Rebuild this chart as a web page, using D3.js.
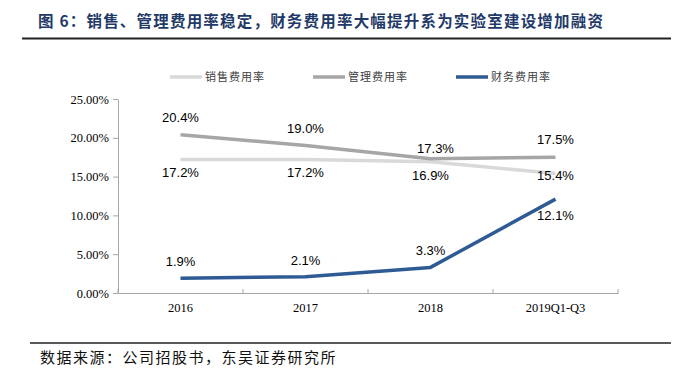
<!DOCTYPE html>
<html><head><meta charset="utf-8">
<script src="https://cdn.jsdelivr.net/npm/d3@7"></script>
<style>body{margin:0;background:#fff;}svg{display:block;}</style>
</head><body>
<svg id="c" width="691" height="378"></svg>
<script>
const categories = ["2016", "2017", "2018", "2019Q1-Q3"];
const salesRate = [17.2, 17.2, 16.9, 15.4];
const adminRate = [20.4, 19.0, 17.3, 17.5];
const financeRate = [1.9, 2.1, 3.3, 12.1];
const seriesNames = ["销售费用率", "管理费用率", "财务费用率"];
const yTicks = [0, 5, 10, 15, 20, 25];
const titleText = "图 6：销售、管理费用率稳定，财务费用率大幅提升系为实验室建设增加融资";
const sourceText = "数据来源：公司招股书，东吴证券研究所";

const svg = d3.select("#c");
const colors = ["#d9d9d9", "#a6a6a6", "#2f5b95"];
const series = [salesRate, adminRate, financeRate];
// label offsets (placement only)
const labelDy = [[17, 17, 18, 7], [-13, -13, -6, -13], [-12, -12, -12, 21]];

// title
svg.append("text").attr("x", 38).attr("y", 27)
  .attr("font-family", "Noto Sans CJK SC").attr("font-weight", 700)
  .attr("font-size", 15.5).attr("letter-spacing", 1.2).attr("fill", "#1f3a68")
  .text(titleText);
svg.append("line").attr("x1", 22).attr("x2", 671).attr("y1", 38.5).attr("y2", 38.5)
  .attr("stroke", "#222").attr("stroke-width", 2);

const x = d3.scaleBand().domain(categories).range([118, 618]);
const y = d3.scaleLinear().domain([0, 25]).range([293, 99]);

// y axis
const ya = svg.append("g").attr("transform", "translate(118,0)")
  .call(d3.axisLeft(y).tickValues(yTicks).tickSize(5).tickSizeOuter(0).tickFormat(d => d.toFixed(2) + "%"));
ya.select(".domain").attr("stroke", "#a6a6a6");
ya.selectAll(".tick line").attr("stroke", "#a6a6a6");
ya.selectAll(".tick text").attr("font-family", "Liberation Serif").attr("font-size", 12.5)
  .attr("fill", "#000").attr("x", -9);

// x axis
const xa = svg.append("g").attr("transform", "translate(0,293)")
  .call(d3.axisBottom(x).tickSize(0).tickSizeOuter(0));
xa.select(".domain").attr("stroke", "#a6a6a6");
xa.selectAll(".tick text").attr("font-family", "Liberation Serif").attr("font-size", 12.5)
  .attr("fill", "#000").attr("dy", "0.71em").attr("y", 10);
const bounds = categories.map(c => x(c) + x.bandwidth()).concat([118]);
svg.append("g").selectAll("line").data(bounds).join("line")
  .attr("x1", d => d).attr("x2", d => d).attr("y1", 293).attr("y2", 289)
  .attr("stroke", "#a6a6a6");

// lines
const line = d3.line().x((d, i) => x(categories[i]) + x.bandwidth() / 2).y(d => y(d));
series.forEach((s, k) => {
  svg.append("path").datum(s).attr("d", line).attr("fill", "none")
    .attr("stroke", colors[k]).attr("stroke-width", 3.5).attr("stroke-linejoin", "round");
});
// labels
series.forEach((s, k) => {
  svg.append("g").selectAll("text").data(s).join("text")
    .attr("x", (d, i) => x(categories[i]) + x.bandwidth() / 2 + (k === 1 && i === 2 ? 5 : 0))
    .attr("y", (d, i) => y(d) + labelDy[k][i])
    .attr("text-anchor", "middle").attr("font-family", "Liberation Sans")
    .attr("font-size", 13).attr("fill", "#000")
    .text(d => d.toFixed(1) + "%");
});

// legend
const legX = [170, 313, 456];
seriesNames.forEach((n, k) => {
  svg.append("line").attr("x1", legX[k]).attr("x2", legX[k] + 32).attr("y1", 77).attr("y2", 77)
    .attr("stroke", colors[k]).attr("stroke-width", 3.5);
  svg.append("text").attr("x", legX[k] + 35).attr("y", 81)
    .attr("font-family", "Noto Sans CJK SC").attr("font-size", 11).attr("letter-spacing", 1)
    .attr("fill", "#404040").text(n);
});

// source
svg.append("line").attr("x1", 30).attr("x2", 671).attr("y1", 343).attr("y2", 343)
  .attr("stroke", "#222").attr("stroke-width", 1.5);
svg.append("text").attr("x", 40).attr("y", 363)
  .attr("font-family", "Noto Sans CJK SC").attr("font-size", 15).attr("letter-spacing", 1.5)
  .attr("fill", "#111").text(sourceText);
</script>
</body></html>
